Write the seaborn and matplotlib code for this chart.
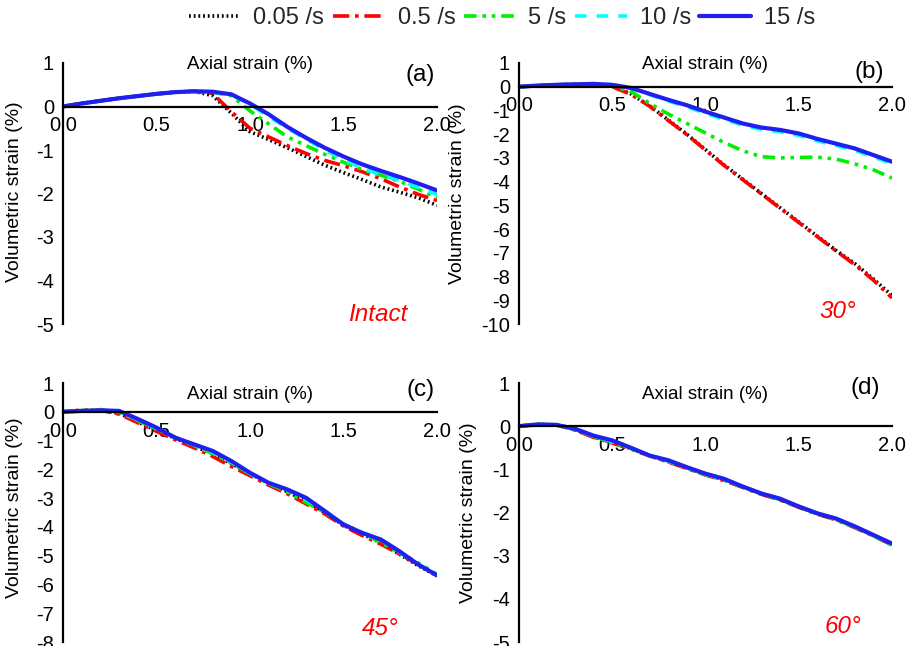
import numpy as np
import pandas as pd
import matplotlib
matplotlib.use("Agg")
import matplotlib.pyplot as plt
import seaborn as sns
from matplotlib.ticker import MultipleLocator, FormatStrFormatter
from matplotlib.lines import Line2D

sns.set_theme(style="white")
plt.rcParams['font.family'] = ['Liberation Sans', 'DejaVu Sans']

# ---------------- data ----------------
rates = ["0.05 /s", "0.5 /s", "5 /s", "10 /s", "15 /s"]
axial = [0.0, 0.1, 0.2, 0.3, 0.4, 0.5, 0.6, 0.7, 0.8, 0.9, 1.0,
         1.1, 1.2, 1.3, 1.4, 1.5, 1.6, 1.7, 1.8, 1.9, 2.0]

# (a) Intact
a_005 = [0, 0.07, 0.13, 0.19, 0.24, 0.29, 0.33, 0.35, 0.25, -0.15, -0.58,
         -0.76, -0.95, -1.15, -1.35, -1.52, -1.68, -1.85, -1.97, -2.10, -2.27]
a_05 = [0, 0.07, 0.13, 0.19, 0.24, 0.29, 0.33, 0.35, 0.30, -0.12, -0.50,
        -0.70, -0.90, -1.08, -1.24, -1.36, -1.50, -1.66, -1.85, -2.02, -2.16]
a_5 = [0, 0.07, 0.13, 0.19, 0.24, 0.29, 0.33, 0.35, 0.33, 0.25, -0.10,
       -0.40, -0.70, -0.90, -1.10, -1.28, -1.45, -1.58, -1.72, -1.90, -2.10]
a_10 = [0, 0.07, 0.13, 0.19, 0.24, 0.29, 0.33, 0.35, 0.33, 0.27, 0.05,
        -0.23, -0.50, -0.75, -1.00, -1.22, -1.42, -1.57, -1.70, -1.86, -2.02]
a_15 = [0, 0.07, 0.13, 0.19, 0.24, 0.29, 0.33, 0.35, 0.34, 0.28, 0.07,
        -0.18, -0.47, -0.72, -0.95, -1.15, -1.33, -1.48, -1.62, -1.77, -1.93]

# (b) 30 deg
b_005 = [0, 0.04, 0.08, 0.10, 0.10, 0.02, -0.30, -0.80, -1.40, -2.00, -2.65,
         -3.30, -3.90, -4.50, -5.10, -5.70, -6.30, -6.90, -7.45, -8.10, -8.80]
b_05 = [0, 0.04, 0.08, 0.10, 0.10, 0.00, -0.32, -0.82, -1.42, -2.02, -2.67,
        -3.32, -3.92, -4.52, -5.12, -5.72, -6.32, -6.92, -7.50, -8.15, -8.90]
b_5 = [0, 0.04, 0.08, 0.10, 0.10, 0.03, -0.20, -0.70, -1.15, -1.55, -1.95,
       -2.35, -2.70, -2.95, -3.00, -2.98, -2.97, -3.05, -3.25, -3.50, -3.85]
b_10 = [0, 0.05, 0.08, 0.10, 0.12, 0.08, -0.07, -0.33, -0.60, -0.85, -1.12,
        -1.38, -1.62, -1.80, -1.90, -2.05, -2.28, -2.48, -2.68, -2.95, -3.25]
b_15 = [0, 0.05, 0.08, 0.10, 0.12, 0.08, -0.05, -0.30, -0.55, -0.78, -1.05,
        -1.30, -1.55, -1.72, -1.82, -1.97, -2.20, -2.40, -2.60, -2.88, -3.16]

# (c) 45 deg
c_005 = [0, 0.03, 0.05, -0.05, -0.35, -0.65, -0.92, -1.20, -1.45, -1.80, -2.15,
         -2.48, -2.78, -3.10, -3.50, -3.95, -4.25, -4.55, -4.95, -5.35, -5.70]
c_05 = [0, 0.06, 0.05, -0.08, -0.38, -0.68, -0.97, -1.25, -1.55, -1.90, -2.22,
        -2.55, -2.85, -3.20, -3.55, -3.97, -4.30, -4.60, -4.95, -5.30, -5.70]
c_5 = [0, 0.05, 0.08, -0.02, -0.30, -0.60, -0.88, -1.18, -1.45, -1.78, -2.15,
       -2.50, -2.78, -3.15, -3.50, -3.90, -4.20, -4.55, -4.90, -5.25, -5.65]
c_10 = [0, 0.03, 0.05, 0.00, -0.28, -0.58, -0.90, -1.15, -1.40, -1.75, -2.15,
        -2.48, -2.72, -3.05, -3.45, -3.90, -4.20, -4.45, -4.88, -5.30, -5.65]
c_15 = [0, 0.03, 0.05, 0.03, -0.25, -0.55, -0.90, -1.13, -1.36, -1.71, -2.12,
        -2.47, -2.70, -2.99, -3.45, -3.92, -4.21, -4.44, -4.85, -5.31, -5.68]

# (d) 60 deg
d_005 = [0, 0.04, 0.03, -0.08, -0.25, -0.38, -0.52, -0.68, -0.82, -0.97, -1.12,
         -1.25, -1.40, -1.57, -1.70, -1.87, -2.03, -2.16, -2.33, -2.53, -2.74]
d_05 = [0, 0.04, 0.03, -0.09, -0.26, -0.39, -0.53, -0.69, -0.83, -0.98, -1.13,
        -1.26, -1.42, -1.58, -1.71, -1.88, -2.04, -2.17, -2.35, -2.54, -2.75]
d_5 = [0, 0.04, 0.03, -0.07, -0.24, -0.38, -0.52, -0.68, -0.81, -0.97, -1.12,
       -1.25, -1.41, -1.57, -1.70, -1.87, -2.03, -2.16, -2.34, -2.54, -2.76]
d_10 = [0, 0.04, 0.03, -0.07, -0.23, -0.36, -0.51, -0.68, -0.80, -0.96, -1.11,
        -1.24, -1.40, -1.56, -1.69, -1.86, -2.02, -2.15, -2.33, -2.53, -2.73]
d_15 = [0, 0.04, 0.03, -0.06, -0.22, -0.33, -0.50, -0.68, -0.79, -0.95, -1.10,
        -1.22, -1.40, -1.56, -1.68, -1.86, -2.02, -2.14, -2.32, -2.52, -2.72]

panels = [
    dict(series=[a_005, a_05, a_5, a_10, a_15], ylim=(-5, 1), tag="(a)", name="Intact"),
    dict(series=[b_005, b_05, b_5, b_10, b_15], ylim=(-10, 1), tag="(b)", name="30°"),
    dict(series=[c_005, c_05, c_5, c_10, c_15], ylim=(-8, 1), tag="(c)", name="45°"),
    dict(series=[d_005, d_05, d_5, d_10, d_15], ylim=(-5, 1), tag="(d)", name="60°"),
]

# ---------------- style ----------------
colors = ["#000000", "#FF0000", "#00EE00", "#00FFFF", "#1F1FF0"]
styles = [(0, (0.5, 0.8)), (0, (4.5, 1.6, 1, 1.6)), (0, (3.5, 1.6, 1, 1.6, 1, 1.6)),
          (0, (3.2, 2.8)), "-"]
widths = [2.6, 2.6, 2.6, 2.6, 3.0]

W, H = 918, 646
fig = plt.figure(figsize=(W / 100, H / 100), dpi=100)

boxes = [(63, 63, 437, 324), (519, 63, 892, 324),
         (63, 383, 437, 642), (519, 383, 892, 642)]
tagpos = [(0.955, 0.955), (0.94, 0.965), (0.955, 0.973), (0.927, 0.98)]
namepos = [(0.842, 0.038), (0.855, 0.046), (0.848, 0.054), (0.869, 0.058)]
axlabpos = [0.996, 0.996, 0.954, 0.954]
ylabx = [-0.106, -0.142, -0.106, -0.112]
ylaby = [0.506, 0.50, 0.517, 0.50]

tick_fs = 14.5
for i, p in enumerate(panels):
    x0, y0, x1, y1 = boxes[i]
    ax = fig.add_axes([x0 / W, 1 - y1 / H, (x1 - x0) / W, (y1 - y0) / H])
    ax.set_facecolor("none")
    for j, ys in enumerate(p["series"]):
        df = pd.DataFrame({"x": axial, "y": ys})
        sns.lineplot(data=df, x="x", y="y", ax=ax, color=colors[j],
                     linestyle=styles[j], linewidth=widths[j], estimator=None,
                     sort=False, legend=False)
    ax.set_xlim(0, 2.0)
    ax.set_ylim(*p["ylim"])
    ax.spines["top"].set_visible(False)
    ax.spines["right"].set_visible(False)
    ax.spines["bottom"].set_position(("data", 0))
    for s in ("left", "bottom"):
        ax.spines[s].set_linewidth(1.6)
        ax.spines[s].set_color("black")
    ax.xaxis.set_major_locator(MultipleLocator(0.5))
    ax.xaxis.set_minor_locator(MultipleLocator(0.25))
    ax.xaxis.set_major_formatter(FormatStrFormatter("%.1f"))
    ax.yaxis.set_major_locator(MultipleLocator(1))
    ax.yaxis.set_minor_locator(MultipleLocator(0.5))
    ax.yaxis.set_major_formatter(FormatStrFormatter("%d"))
    ax.tick_params(axis="both", which="major", direction="out", length=4,
                   width=1.4, labelsize=tick_fs, colors="black", pad=2.5)
    ax.tick_params(axis="both", which="minor", direction="out", length=2.5,
                   width=1.2, colors="black")
    ax.tick_params(axis="x", which="major", pad=3)
    ax.set_xlabel("")
    ax.set_ylabel("Volumetric strain (%)", fontsize=14, color="black")
    ax.yaxis.set_label_coords(ylabx[i], ylaby[i])
    ax.text(0.5, axlabpos[i], "Axial strain (%)", transform=ax.transAxes,
            ha="center", va="center", fontsize=13.5, color="black")
    ax.text(tagpos[i][0], tagpos[i][1], p["tag"], transform=ax.transAxes,
            ha="center", va="center", fontsize=17.5, color="black")
    ax.text(namepos[i][0], namepos[i][1], p["name"], transform=ax.transAxes,
            ha="center", va="center", fontsize=17.5, color="#FF0000",
            style="italic")
    ax.grid(False)

handles = [Line2D([], [], color=colors[j], linestyle=styles[j], linewidth=widths[j])
           for j in range(5)]
fig.legend(handles, rates, loc="center", bbox_to_anchor=(502 / W, 1 - 18 / H),
           ncol=5, frameon=False, fontsize=17, handlelength=2.2,
           handletextpad=0.55, columnspacing=0.35)

fig.savefig("out.png", dpi=100)
